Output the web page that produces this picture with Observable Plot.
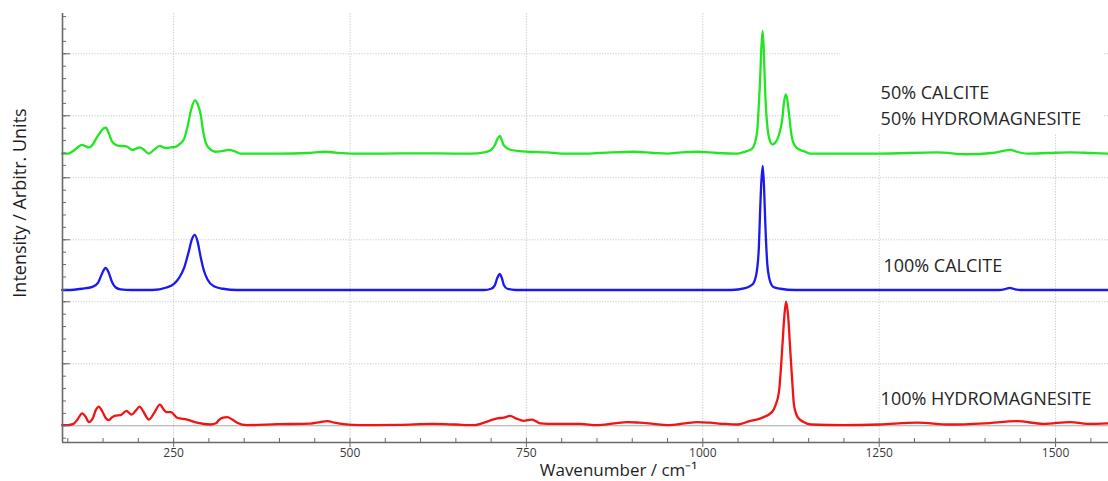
<!DOCTYPE html>
<html><head><meta charset="utf-8">
<script src="https://cdn.jsdelivr.net/npm/d3@7"></script>
<script src="https://cdn.jsdelivr.net/npm/@observablehq/plot@0.6"></script>
<style>html,body{margin:0;padding:0;background:#fff} svg{display:block}</style>
</head><body><div id="chart"></div>
<script>
// ---- data (wavenumber cm-1, relative intensity) ----
const hydroWn = [92,100,108,113,120.6,125,130,135,140,144,149,154,158.3,163,168,175,183,190.5,196,201.8,207,215,222,230.6,236,240,246,255,269,283,302,310,314,320,326,333,340,354,397,444,458,468,478,491,515,570,618,650,675,690,700,708.7,718,727,735,746.5,752,758,764,770,790,827,850,875,893,910,930,950,975,992,1010,1030,1049,1065,1082,1098,1103,1108,1112.6,1115.5,1118,1121,1124,1126.8,1129,1131.5,1135,1143,1153,1200,1250,1304,1350,1400,1445,1483,1521,1545,1575];
const hydroI  = [0,0,0.02,0.08,0.19,0.14,0.05,0.1,0.25,0.30,0.22,0.11,0.08,0.13,0.155,0.16,0.23,0.17,0.23,0.30,0.22,0.09,0.19,0.33,0.25,0.21,0.21,0.12,0.09,0.04,0.01,0.03,0.08,0.12,0.13,0.09,0.04,0,0.015,0.025,0.05,0.065,0.04,0.015,0,0.005,0.02,0.01,0,0.04,0.08,0.11,0.12,0.15,0.11,0.07,0.08,0.09,0.06,0.03,0.02,0.02,0,0.03,0.05,0.04,0.02,0,0.03,0.05,0.04,0.02,0.01,0.06,0.11,0.21,0.32,0.54,1.24,1.75,1.99,1.75,1.2,0.70,0.35,0.21,0.12,0.05,0.01,0,0.01,0.04,0.01,0.03,0.065,0.02,0.05,0.02,0.03];

const calciteWn = [92,100,120,135,143,148,153.6,158,163,168,175,190,220,240,250,258,265,271,276,280,284,288,293,298,307,320,340,500,690,700,705,709,712.4,715,718,723,735,1040,1060,1068,1072.4,1077,1079.5,1081,1083,1085,1087,1088.5,1091.4,1094,1096,1100,1110,1130,1420,1430,1435,1440,1450,1575];
const calciteI  = [0,0,0.02,0.05,0.12,0.25,0.355,0.28,0.12,0.04,0.01,0,0,0.04,0.095,0.2,0.36,0.6,0.82,0.89,0.78,0.55,0.31,0.17,0.06,0.02,0,0,0,0.02,0.07,0.2,0.26,0.2,0.08,0.02,0,0,0.03,0.07,0.12,0.34,0.7,1.2,1.75,2.0,1.6,1.1,0.42,0.2,0.12,0.05,0.02,0,0,0.02,0.035,0.02,0,0];

const mixWn = [92,100,106,111,116,120.6,125,130,135,139.5,146,151,154,158,162,165.4,172.5,180,184.4,191.5,197,201.8,207,215,222,230.6,236,240,246,252.8,258,264.6,270,275,280.2,284,288.3,292,295.4,300,309.5,318,328.4,336,345,400,440,465,480,505,543,600,650,671,690,699.3,705,708.7,712.4,715,717.2,721,725.2,740,751.3,780,800,836,870,902,930,949.7,970,992,1020,1049,1060,1070,1074,1077.2,1079,1081,1083,1084.8,1086.5,1088,1090,1091.4,1094,1098.5,1102,1105.6,1109,1112.6,1115,1117.8,1120,1122,1124.5,1126.8,1131,1136.2,1145,1153,1250,1332,1375,1410,1436,1445,1460,1490,1521,1550,1575];
const mixI  = [0,0,0.03,0.07,0.12,0.14,0.12,0.10,0.14,0.23,0.34,0.41,0.42,0.33,0.21,0.16,0.125,0.12,0.11,0.06,0.08,0.10,0.07,0,0.06,0.125,0.10,0.09,0.10,0.11,0.15,0.23,0.45,0.72,0.86,0.8,0.635,0.35,0.18,0.09,0.03,0.04,0.06,0.04,0,0,0.01,0.03,0.015,0,0,0.005,0,0,0.02,0.055,0.13,0.23,0.285,0.22,0.15,0.10,0.07,0.04,0.03,0.02,0,0,0.02,0.03,0.01,0,0.02,0.03,0.01,0,0.03,0.08,0.18,0.38,0.7,1.13,1.7,1.98,1.65,1.13,0.65,0.45,0.25,0.15,0.17,0.23,0.35,0.55,0.82,0.955,0.85,0.66,0.4,0.23,0.12,0.07,0.03,0,0,0.02,-0.01,0.01,0.06,0.03,0,0.01,0.02,0.01,0];

const seriesNames   = ["100% HYDROMAGNESITE", "100% CALCITE", "50% CALCITE / 50% HYDROMAGNESITE"];
const seriesColors  = ["#f21414", "#1a1af0", "#22e622"];
const seriesOffsets = [0.01, 2.19, 4.39];

const labelTexts = ["50% CALCITE", "50% HYDROMAGNESITE", "100% CALCITE", "100% HYDROMAGNESITE"];
const labelWn    = [1252, 1252, 1256, 1252];
const labelY     = [5.37, 4.95, 2.57, 0.435];

const xTickLabels = [250, 500, 750, 1000, 1250, 1500];
const xMinorTicks = d3.range(100, 1575, 50);
const yMajorTicks = [1, 2, 3, 4, 5, 6];
const yMinorTicks = d3.range(-0.2, 6.61, 0.2);
const xDomain = [92.5, 1575];
const yDomain = [-0.27, 6.65];
// white backdrop of the label block (top right)
const labelBox = [{x1: 1195, x2: 1568, y1: 4.71, y2: 6.65}];

// ---- build table ----
const spectra = [[hydroWn, hydroI], [calciteWn, calciteI], [mixWn, mixI]];
const rows = [];
spectra.forEach(([wn, I], s) => wn.forEach((w, i) =>
  rows.push({series: seriesNames[s], wn: w, v: I[i] + seriesOffsets[s]})));
const labels = labelTexts.map((t, i) => ({text: t, wn: labelWn[i], y: labelY[i]}));

const W = 1108, H = 481, mL = 62, mR = 0, mT = 13, mB = 39;
const plotW = W - mL - mR, plotH = H - mT - mB;
const axisColor = "#6a6a6a";

const chart = Plot.plot({
  width: W, height: H,
  marginLeft: mL, marginRight: mR, marginTop: mT, marginBottom: mB,
  style: {fontFamily: "'Open Sans', sans-serif", background: "#fff", color: "#333"},
  x: {domain: xDomain},
  y: {domain: yDomain, axis: null},
  color: {domain: seriesNames, range: seriesColors},
  marks: [
    Plot.ruleX(xTickLabels, {stroke: "#c8c8c8", strokeWidth: 1, strokeDasharray: "1.2,1.5"}),
    Plot.ruleY(yMajorTicks, {stroke: "#c8c8c8", strokeWidth: 1, strokeDasharray: "1.2,1.5"}),
    Plot.rect(labelBox, {x1: "x1", x2: "x2", y1: "y1", y2: "y2", fill: "white"}),
    Plot.ruleY([0], {stroke: "#a8a8a8", strokeWidth: 1.2}),
    Plot.line(rows, {x: "wn", y: "v", z: "series", stroke: "series", strokeWidth: 2.3, curve: "monotone-x"}),
    Plot.text(labels, {x: "wn", y: "y", text: "text", textAnchor: "start", lineAnchor: "middle", fontSize: 18, fill: "#262626"}),
    // axis lines
    Plot.ruleX([xDomain[0]], {stroke: axisColor, strokeWidth: 1.6}),
    Plot.ruleY([yDomain[0]], {stroke: axisColor, strokeWidth: 1.6}),
    // y ticks (inside)
    Plot.tickY(yMinorTicks, {y: d => d, insetRight: plotW - 4, stroke: axisColor}),
    Plot.tickY([0, ...yMajorTicks], {y: d => d, insetRight: plotW - 8, stroke: axisColor}),
    // x ticks
    Plot.tickX(xMinorTicks, {x: d => d, insetTop: plotH - 4, stroke: axisColor}),
    Plot.axisX(xTickLabels, {anchor: "bottom", tickSize: 5, tickPadding: 1, fontSize: 12, color: "#3a3a3a", stroke: axisColor, label: null, tickFormat: d => String(d)}),
    // titles
    Plot.text(["Wavenumber / cm\u207B\u00B9"], {frameAnchor: "bottom", dx: 33, dy: 28, fontSize: 17, fill: "#1e1e1e", textAnchor: "middle", lineAnchor: "middle"}),
    Plot.text(["Intensity / Arbitr. Units"], {frameAnchor: "left", rotate: -90, dx: -42, dy: -25, fontSize: 18, fill: "#1e1e1e", textAnchor: "middle", lineAnchor: "middle"})
  ]
});
document.getElementById("chart").appendChild(chart);
</script>
</body></html>
